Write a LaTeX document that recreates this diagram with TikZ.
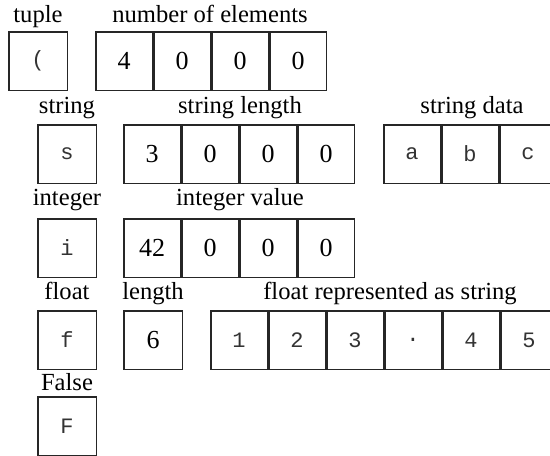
\documentclass[tikz,border=0pt]{standalone}
\usepackage{fontspec}
\setmainfont{Liberation Serif}
\setmonofont{Liberation Mono}
\usetikzlibrary{positioning}

\begin{document}
\begin{tikzpicture}[
  x=0.5pt, y=-0.5pt,
  font=\fontsize{13}{15}\selectfont,
  cell/.style={draw=black!85,line width=0.75pt,anchor=north west,inner sep=0pt,
               minimum width=28.25pt,minimum height=29.25pt},
  box/.style={cell,minimum width=29.25pt},
  lbl/.style={anchor=base,font=\fontsize{12.3}{14}\selectfont},
  chr/.style={font=\fontsize{11}{13}\selectfont\ttfamily,text=black!80}
]
\useasboundingbox (0,0) rectangle (550,455);
\clip (0,0) rectangle (550,455);

% a run of byte cells, side by side
\newcommand{\bytes}[5]{%
  \foreach \v [count=\i from 0] in {#4} {
    \node[cell,#5] (#1\i) at (#2+58*\i,#3) {\v};
  }
}

% ---- tuple ----
\node[lbl] (ltuple) at (38,22) {tuple};
\node[lbl] (lcount) at (210,22) {number of elements};
\node[box,chr] (tuple) at (8,31) {(};
\bytes{cnt}{95}{31}{4,0,0,0}{}

% ---- string ----
\node[lbl] (lstring) at (67,113) {string};
\node[lbl] (lstrlen) at (240,113) {string length};
\node[lbl] (lstrdata) at (472,113) {string data};
\node[box,chr] (str) at (37,124) {s};
\bytes{slen}{123}{124}{3,0,0,0}{}
\bytes{sdat}{383}{124}{a,b,c}{chr}

% ---- integer ----
\node[lbl] (lint) at (67,205) {integer};
\node[lbl] (lintval) at (240,205) {integer value};
\node[box,chr] (int) at (37,218) {i};
\bytes{ival}{123}{218}{42,0,0,0}{}

% ---- float ----
\node[lbl] (lfloat) at (67,299) {float};
\node[lbl] (lflen) at (153,299) {length};
\node[lbl] (lfstr) at (390,299) {float represented as string};
\node[box,chr] (flt) at (37,310) {f};
\node[box] (flen) at (123,310) {6};
\bytes{fdig}{210}{310}{1,2,3,.,4,5}{chr}

% ---- False ----
\node[lbl] (lfalse) at (67,390) {False};
\node[box,chr] (fls) at (37,396) {F};

\end{tikzpicture}
\end{document}
